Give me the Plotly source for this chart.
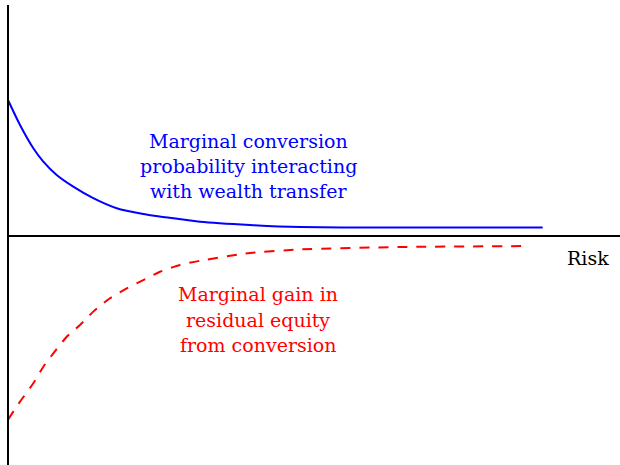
import plotly.graph_objects as go

# Risk (x) and marginal effect (y)
risk_blue = [0.0, 0.226, 0.476, 0.664, 0.915, 1.227, 1.603, 2.043, 2.543, 3.107, 3.609, 4.549, 5.489, 7.0, 10.05]
conv_prob = [1.0, 0.816, 0.645, 0.547, 0.449, 0.363, 0.278, 0.204, 0.162, 0.130, 0.105, 0.081, 0.066, 0.0625, 0.0625]

risk_red = [0.0, 0.226, 0.476, 0.664, 0.852, 1.103, 1.353, 1.603, 1.917, 2.231, 2.543, 2.857, 3.233, 3.609, 4.549, 5.489, 7.368, 9.774]
resid_gain = [-1.35, -1.218, -1.083, -0.961, -0.863, -0.741, -0.654, -0.556, -0.458, -0.385, -0.324, -0.263, -0.213, -0.182, -0.125, -0.099, -0.081, -0.074]

blue_label = ["Marginal conversion", "probability interacting", "with wealth transfer"]
red_label = ["Marginal gain in", "residual equity", "from conversion"]
axis_label = "Risk"

PX_X, PX_Y = 53.2, 136.0  # pixels per data unit
x_min, x_max = -8 / PX_X, (620 - 8) / PX_X
y_min, y_max = -(465 - 236) / PX_Y, 236 / PX_Y

def dx(px):
    return (px - 8) / PX_X

def dy(py):
    return (236 - py) / PX_Y

fig = go.Figure()
fig.add_trace(go.Scatter(x=risk_blue, y=conv_prob, mode="lines",
                         line=dict(color="#0000ff", width=2, shape="spline", smoothing=0.6), hoverinfo="skip"))
fig.add_trace(go.Scatter(x=risk_red, y=resid_gain, mode="lines",
                         line=dict(color="#ff0000", width=2, dash="10px,9px", shape="spline", smoothing=0.6), hoverinfo="skip"))

fig.add_shape(type="line", x0=0, x1=0, y0=dy(5), y1=y_min, line=dict(color="black", width=2))
fig.add_shape(type="line", x0=0, x1=x_max, y0=0, y1=0, line=dict(color="black", width=2))

font = "DejaVu Serif"
fs = 19
for i, t in enumerate(blue_label):
    fig.add_annotation(x=dx(248), y=dy(141 + 25 * i), text=t, showarrow=False,
                       font=dict(family=font, size=fs, color="#0000ff"), xanchor="center", yanchor="middle")
for i, t in enumerate(red_label):
    fig.add_annotation(x=dx(258), y=dy(294 + 25.5 * i), text=t, showarrow=False,
                       font=dict(family=font, size=fs, color="#ff0000"), xanchor="center", yanchor="middle")
fig.add_annotation(x=dx(588), y=dy(258), text=axis_label, showarrow=False,
                   font=dict(family=font, size=fs, color="black"), xanchor="center", yanchor="middle")

fig.update_layout(width=620, height=465, margin=dict(l=0, r=0, t=0, b=0),
                  paper_bgcolor="white", plot_bgcolor="white", showlegend=False)
fig.update_xaxes(range=[x_min, x_max], visible=False)
fig.update_yaxes(range=[y_min, y_max], visible=False)
fig.write_html("out.html", config={"displayModeBar": False},
               post_script="document.body.style.margin='0';")
